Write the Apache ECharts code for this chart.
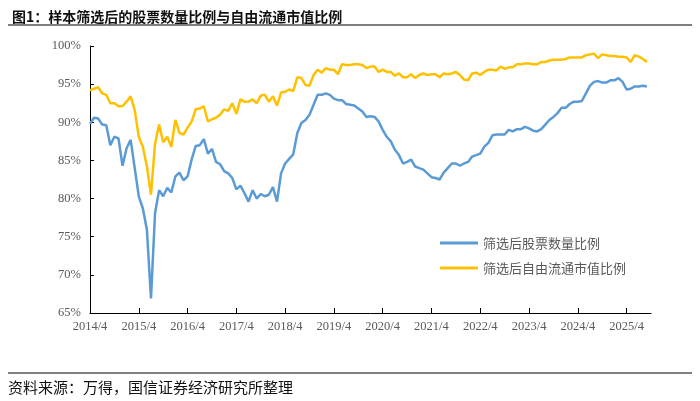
<!DOCTYPE html>
<html>
<head>
<meta charset="utf-8">
<script src="https://cdn.jsdelivr.net/npm/echarts@6/dist/echarts.min.js"></script>
<style>
html,body{margin:0;padding:0;background:#fff;}
#chart{width:700px;height:401px;}
</style>
</head>
<body>
<div id="chart"></div>
<script>
// Year tick labels (category axis starts at 2014/4, monthly)
const tickLabels = ['2014/4','2015/4','2016/4','2017/4','2018/4','2019/4','2020/4','2021/4','2022/4','2023/4','2024/4','2025/4'];
const monthCount = 139; // 2014/4 .. 2025/10 axis extent

// 筛选后股票数量比例 (%), monthly from 2014/4
const stockCountRatio = [
  89.8, 90.6, 90.5, 89.7, 89.6, 87.0, 88.1, 87.9, 84.3, 86.6, 87.7, 84.0,
  80.3, 78.7, 75.9, 66.9, 78.1, 81.1, 80.3, 81.4, 80.8, 82.9, 83.4, 82.4,
  82.9, 85.1, 86.9, 87.0, 87.8, 85.9, 86.5, 84.8, 84.5, 83.6, 83.3, 82.7,
  81.2, 81.7, 80.7, 79.6, 81.1, 80.0, 80.6, 80.3, 80.5, 81.5, 79.6, 83.3,
  84.6, 85.2, 85.8, 88.6, 89.9, 90.3, 91.0, 92.3, 93.6, 93.6, 93.8, 93.6,
  93.1, 92.9, 92.9, 92.4, 92.3, 92.2, 91.8, 91.4, 90.7, 90.8, 90.7, 90.1,
  89.0, 88.1, 87.5, 86.4, 85.7, 84.6, 84.8, 85.1, 84.2, 84.0, 83.8, 83.3,
  82.8, 82.7, 82.5, 83.4, 84.0, 84.6, 84.6, 84.3, 84.6, 84.8, 85.5, 85.7,
  85.9, 86.8, 87.3, 88.3, 88.4, 88.4, 88.4, 89.0, 88.8, 89.1, 89.1, 89.4,
  89.2, 88.9, 88.8, 89.1, 89.7, 90.3, 90.7, 91.2, 91.9, 91.9, 92.4, 92.7,
  92.7, 92.8, 93.8, 94.8, 95.3, 95.4, 95.2, 95.2, 95.5, 95.5, 95.8, 95.3,
  94.3, 94.4, 94.7, 94.7, 94.8, 94.7
];

// 筛选后自由流通市值比例 (%), monthly from 2014/4
const floatCapRatio = [
  94.2, 94.4, 94.6, 93.8, 93.6, 92.5, 92.5, 92.1, 92.1, 92.7, 93.4, 91.6,
  88.1, 86.8, 84.2, 80.5, 87.2, 89.7, 87.4, 88.1, 86.8, 90.3, 88.6, 88.4,
  89.3, 90.1, 91.7, 91.8, 92.1, 90.1, 90.4, 90.6, 91.0, 91.7, 91.5, 92.5,
  91.1, 93.0, 92.7, 92.7, 93.0, 92.5, 93.5, 93.6, 92.7, 93.4, 92.2, 93.9,
  94.0, 94.3, 94.1, 95.9, 95.8, 94.9, 94.8, 96.2, 96.9, 96.5, 97.1, 96.9,
  96.9, 96.3, 97.6, 97.5, 97.5, 97.6, 97.6, 97.5, 97.1, 97.3, 97.3, 96.6,
  96.9, 96.6, 96.6, 96.1, 96.4, 95.9, 95.9, 96.3, 95.8, 96.2, 96.4, 96.2,
  96.3, 96.3, 95.9, 96.4, 96.3, 96.4, 96.6, 96.2, 95.6, 95.5, 96.4, 96.5,
  96.2, 96.6, 96.9, 96.9, 96.8, 97.3, 97.0, 97.2, 97.2, 97.6, 97.6, 97.7,
  97.7, 97.6, 97.6, 97.9, 97.9, 98.1, 98.2, 98.2, 98.2, 98.3, 98.5, 98.5,
  98.5, 98.5, 98.8, 98.9, 99.0, 98.4, 98.9, 98.8, 98.7, 98.7, 98.6, 98.6,
  98.5, 97.9, 98.8, 98.6, 98.3, 97.9
];

const seriesNames = ['筛选后股票数量比例', '筛选后自由流通市值比例'];
const yTicks = { min: 65, max: 100, step: 5 };

const categories = [];
for (let i = 0; i < monthCount; i++) {
  const y = 2014 + Math.floor((i + 3) / 12);
  const m = (i + 3) % 12 + 1;
  categories.push(y + '/' + m);
}

const chart = echarts.init(document.getElementById('chart'), null, { renderer: 'canvas' });
chart.setOption({
  animation: false,
  backgroundColor: '#fff',
  title: {
    text: '图1：样本筛选后的股票数量比例与自由流通市值比例',
    left: 7, top: 5,
    textStyle: { fontFamily: 'Noto Sans CJK SC', fontSize: 14, fontWeight: 'bold', color: '#111' }
  },
  graphic: [
    { type: 'line', shape: { x1: 8, y1: 25, x2: 692, y2: 25 }, style: { stroke: '#555', lineWidth: 1.5 } },
    { type: 'line', shape: { x1: 8, y1: 373, x2: 692, y2: 373 }, style: { stroke: '#555', lineWidth: 1.5 } },
    { type: 'text', left: 8, top: 380,
      style: { text: '资料来源：万得，国信证券经济研究所整理', font: '15px "Noto Sans CJK SC"', fill: '#111' } }
  ],
  legend: {
    orient: 'vertical',
    left: 440, top: 236, padding: 0,
    itemWidth: 38, itemHeight: 3, itemGap: 11,
    icon: 'rect',
    textStyle: { fontFamily: 'Noto Sans CJK SC', fontSize: 13, color: '#595959', lineHeight: 14, padding: [0, 0, 0, 0] },
    data: seriesNames
  },
  grid: { left: 90, right: 49, top: 46, bottom: 88 },
  xAxis: {
    type: 'category',
    data: categories,
    boundaryGap: false,
    axisLine: { lineStyle: { color: '#000', width: 1 } },
    axisTick: { inside: true, length: 5, interval: 11, lineStyle: { color: '#000' } },
    axisLabel: {
      interval: 11, margin: 7,
      fontFamily: 'Liberation Serif', fontSize: 12.5, color: '#595959',
      formatter: function (v) { return tickLabels.indexOf(v) >= 0 ? v : ''; }
    },
    splitLine: { show: false }
  },
  yAxis: {
    type: 'value',
    min: yTicks.min, max: yTicks.max, interval: yTicks.step,
    axisLine: { show: true, lineStyle: { color: '#000', width: 1 } },
    axisTick: { show: true, inside: true, length: 4, lineStyle: { color: '#000' } },
    axisLabel: { margin: 9, fontFamily: 'Liberation Serif', fontSize: 12.5, color: '#595959', formatter: '{value}%' },
    splitLine: { show: false }
  },
  series: [
    {
      name: seriesNames[0], type: 'line', data: stockCountRatio,
      symbol: 'none', lineStyle: { color: '#5B9BD5', width: 2.5 }, itemStyle: { color: '#5B9BD5' }
    },
    {
      name: seriesNames[1], type: 'line', data: floatCapRatio,
      symbol: 'none', lineStyle: { color: '#FFC000', width: 2.5 }, itemStyle: { color: '#FFC000' }
    }
  ]
});
</script>
</body>
</html>
